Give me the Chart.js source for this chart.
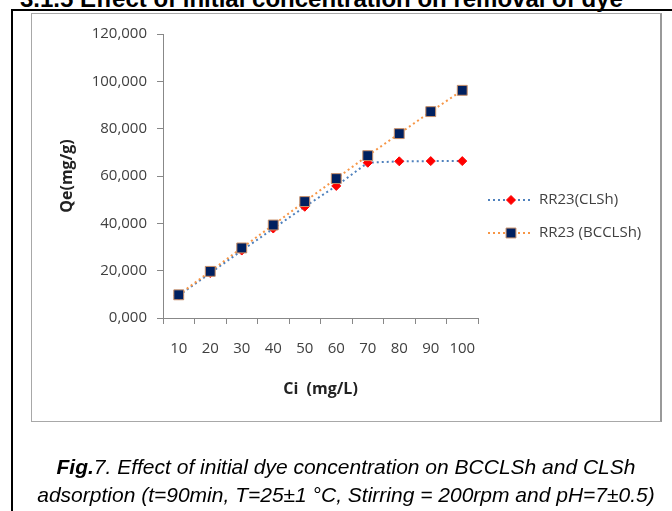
<!DOCTYPE html>
<html>
<head>
<meta charset="utf-8">
<script src="https://cdn.jsdelivr.net/npm/chart.js"></script>
<style>
  body { margin: 0; background: #fff; width: 672px; height: 511px; overflow: hidden; position: relative; }
  #heading { position: absolute; left: 20px; top: -13px; font: bold 24px "Liberation Sans", Arial, sans-serif; line-height: 24px; white-space: nowrap; color: #000; }
  #frame { position: absolute; left: 11px; top: 9px; width: 700px; height: 600px; border-left: 2px solid #000; border-top: 2px solid #000; }
  #box { position: absolute; left: 31px; top: 13px; width: 628px; height: 407px; border: 1px solid #a8a8a8; border-right: 2px solid #999; }
  #myChart { position: absolute; left: 0; top: 0; }
  #caption { position: absolute; left: 20px; width: 652px; top: 453px; text-align: center; font: italic 21px "Liberation Sans", Arial, sans-serif; line-height: 28px; color: #000; white-space: nowrap; }
</style>
</head>
<body>
<div id="heading">3.1.5 Effect of initial concentration on removal of dye</div>
<div id="frame"></div>
<div id="box"></div>
<canvas id="myChart" width="672" height="511"></canvas>
<div id="caption"><b>Fig.</b>7. Effect of initial dye concentration on BCCLSh and CLSh<br>adsorption (t=90min, T=25±1 °C, Stirring = 200rpm and pH=7±0.5)</div>
<script>
const concentrations = ['10', '20', '30', '40', '50', '60', '70', '80', '90', '100'];
const qeCLSh = [9.5, 19.0, 28.5, 37.8, 47.0, 55.8, 65.6, 66.2, 66.3, 66.3];
const qeBCCLSh = [9.8, 19.7, 29.6, 39.3, 49.2, 58.9, 68.6, 77.9, 87.2, 96.2];
const yTicks = [0, 20, 40, 60, 80, 100, 120];

const axisGray = '#888888';
const textGray = '#404040';

// legend drawn by hand so the sample shows dotted line + marker like Excel
const sideLegend = {
  id: 'sideLegend',
  afterDraw(chart) {
    const c = chart.ctx;
    const rows = [
      { y: 200, line: '#4F81BD', fill: '#ff0000', stroke: '#ff0000', shape: 'rectRot', r: 4.5, text: 'RR23(CLSh)' },
      { y: 233, line: '#F79646', fill: '#002060', stroke: '#c8906a', shape: 'rect', r: 7, text: 'RR23 (BCCLSh)' }
    ];
    rows.forEach(row => {
      c.save();
      c.strokeStyle = row.line;
      c.lineWidth = 2;
      c.setLineDash([2, 3]);
      c.beginPath();
      c.moveTo(488, row.y);
      c.lineTo(532, row.y);
      c.stroke();
      c.setLineDash([]);
      c.fillStyle = row.fill;
      c.strokeStyle = row.stroke;
      c.lineWidth = 1;
      Chart.helpers.drawPoint(c, { pointStyle: row.shape, radius: row.r, borderWidth: 1, rotation: 0 }, 511, row.y);
      c.fillStyle = textGray;
      c.font = '15px "Open Sans"';
      c.textBaseline = 'middle';
      c.textAlign = 'left';
      c.fillText(row.text, 539, row.y);
      c.restore();
    });
  }
};

const ctx = document.getElementById('myChart');

new Chart(ctx, {
  type: 'line',
  data: {
    labels: concentrations,
    datasets: [{
      label: 'RR23(CLSh)',
      data: qeCLSh,
      borderColor: '#4F81BD',
      borderWidth: 2,
      borderDash: [2, 3],
      pointStyle: 'rectRot',
      pointRadius: 4.5,
      pointBackgroundColor: '#ff0000',
      pointBorderColor: '#ff0000',
      pointBorderWidth: 1,
      order: 2
    }, {
      label: 'RR23 (BCCLSh)',
      data: qeBCCLSh,
      borderColor: '#F79646',
      borderWidth: 2,
      borderDash: [2, 3],
      pointStyle: 'rect',
      pointRadius: 7,
      pointBackgroundColor: '#002060',
      pointBorderColor: '#c8906a',
      pointBorderWidth: 1,
      order: 1
    }]
  },
  options: {
    responsive: false,
    animation: false,
    layout: { padding: { left: 0, top: 34, right: 194, bottom: 103 } },
    plugins: { legend: { display: false }, tooltip: { enabled: false } },
    scales: {
      x: {
        offset: true,
        afterFit: s => { s.height = 90; },
        grid: { offset: true, drawOnChartArea: false, drawTicks: true, tickLength: 6, color: axisGray },
        border: { color: axisGray },
        ticks: { color: textGray, padding: 16, maxRotation: 0, font: { family: 'Open Sans', size: 15 } },
        title: { display: true, text: 'Ci  (mg/L)', color: '#222', padding: { top: 0, bottom: 9 }, font: { family: 'Open Sans', size: 16, weight: 'bold' } }
      },
      y: {
        min: 0,
        max: 120,
        afterFit: s => { s.width = 163; },
        afterBuildTicks: s => { s.ticks = yTicks.map(v => ({ value: v })); },
        grid: { drawOnChartArea: false, drawTicks: true, tickLength: 6, color: axisGray },
        border: { color: axisGray },
        ticks: {
          color: textGray,
          padding: 10,
          font: { family: 'Open Sans', size: 15 },
          callback: v => v.toFixed(3).replace('.', ',')
        },
        title: { display: true, text: 'Qe(mg/g)', color: '#222', padding: { top: 58, bottom: 0 }, font: { family: 'Open Sans', size: 16, weight: 'bold' } }
      }
    }
  },
  plugins: [sideLegend]
});
</script>
</body>
</html>
